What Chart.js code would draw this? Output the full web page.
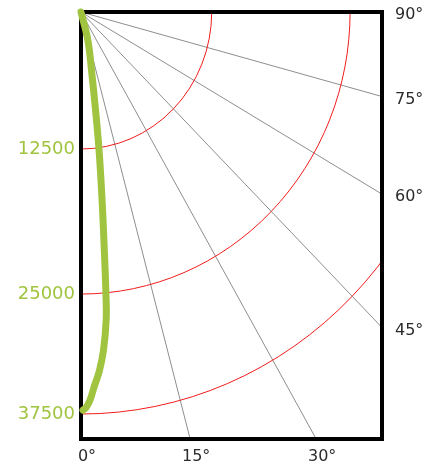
<!DOCTYPE html>
<html>
<head>
<meta charset="utf-8">
<script src="https://cdn.jsdelivr.net/npm/chart.js@4.4.1/dist/chart.umd.min.js"></script>
<style>
    html, body { margin: 0; padding: 0; background: #fff; }
    #wrap { width: 437px; height: 468px; position: relative; }
</style>
</head>
<body>
<div id="wrap"><canvas id="trackCanvas"></canvas></div>
<script>
// rings (labelled on the left)
var ringAltitudes = [12500, 25000, 37500];
var ringLabels = ["12500", "25000", "37500"];

// bearing lines, 0 = straight down, 90 = along the top
var angleTicks = [0, 15, 30, 45, 60, 75, 90];
var angleLabels = ["0°", "15°", "30°", "45°", "60°", "75°", "90°"];

// the track (bearing in degrees, altitude)
var trackAngle = [0, 14.2, 10.4, 9.0, 7.8, 6.7, 6.0, 5.3, 4.9, 4.0, 3.1, 2.1, 1.4, 0.8, 0.3];
var trackAltitude = [0, 2700, 5800, 8600, 12700, 17000, 20500, 25100, 27800, 30900, 33000, 34700, 36050, 36800, 37100];

// radial axis is not evenly spaced, this is where each altitude lands in plot units
var radialAxis = { alt: [0, 12500, 25000, 37500], r: [0, 12780, 26310, 37500] };
var X_MAX = 29430;
var Y_MAX = 39830;

var GREEN = "#a0c43f";
var TEXT = "#2b2b2b";

function warp(h) {
    var a = radialAxis.alt, r = radialAxis.r;
    var i = 1;
    while (i < a.length - 1 && h > a[i]) i++;
    return r[i - 1] + (h - a[i - 1]) * (r[i] - r[i - 1]) / (a[i] - a[i - 1]);
}
function toRad(d) { return d * Math.PI / 180; }

var trackPoints = [];
for (var i = 0; i < trackAngle.length; i++) {
    var rr = warp(trackAltitude[i]);
    trackPoints.push({ x: rr * Math.sin(toRad(trackAngle[i])), y: rr * Math.cos(toRad(trackAngle[i])) });
}

// which bearing lines leave through the bottom and which through the right side
var bottomTicks = [], bottomLabels = [], sideTicks = [], sideLabels = [];
for (var k = 0; k < angleTicks.length; k++) {
    var t = Math.tan(toRad(angleTicks[k]));
    if (t * Y_MAX <= X_MAX) {
        bottomTicks.push(Y_MAX * t);
        bottomLabels.push(angleLabels[k]);
    } else {
        sideTicks.push(angleTicks[k] >= 90 ? 0 : X_MAX / t);
        sideLabels.push(angleLabels[k]);
    }
}

var polarGrid = {
    id: "polarGrid",
    beforeDatasetsDraw: function(chart) {
        var ctx = chart.ctx, a = chart.chartArea;
        var xs = chart.scales.x, ys = chart.scales.y;
        var ox = xs.getPixelForValue(0), oy = ys.getPixelForValue(0);
        ctx.save();
        ctx.beginPath();
        ctx.rect(a.left, a.top, a.right - a.left, a.bottom - a.top);
        ctx.clip();

        ctx.strokeStyle = "#8e8e8e";
        ctx.lineWidth = 1;
        angleTicks.forEach(function(d) {
            var far = 300000;
            ctx.beginPath();
            ctx.moveTo(ox, oy);
            ctx.lineTo(xs.getPixelForValue(far * Math.sin(toRad(d))), ys.getPixelForValue(far * Math.cos(toRad(d))));
            ctx.stroke();
        });

        ctx.strokeStyle = "#f21c1c";
        ringAltitudes.forEach(function(h) {
            var r = warp(h);
            var rx = xs.getPixelForValue(r) - ox;
            var ry = ys.getPixelForValue(r) - oy;
            ctx.beginPath();
            ctx.ellipse(ox, oy, rx, ry, 0, 0, Math.PI / 2);
            ctx.stroke();
        });
        ctx.restore();

        // frame
        ctx.save();
        ctx.strokeStyle = "#000";
        ctx.lineWidth = 4;
        ctx.strokeRect(a.left, a.top, a.right - a.left, a.bottom - a.top);
        ctx.restore();
    }
};

function noPad(scale) {
    scale.paddingTop = 0;
    scale.paddingBottom = 0;
    scale.paddingLeft = 0;
    scale.paddingRight = 0;
}

var ctx = document.getElementById("trackCanvas");
var chart = new Chart(ctx, {
    type: "scatter",
    data: {
        datasets: [{
            data: trackPoints,
            showLine: true,
            borderColor: GREEN,
            borderWidth: 7,
            borderCapStyle: "round",
            borderJoinStyle: "round",
            tension: 0.4,
            pointRadius: 0,
            clip: 8,
            xAxisID: "x",
            yAxisID: "y"
        }]
    },
    options: {
        responsive: true,
        maintainAspectRatio: false,
        animation: false,
        events: [],
        layout: { padding: { top: 12, left: 0, right: 0, bottom: 0 } },
        plugins: { legend: { display: false }, tooltip: { enabled: false } },
        scales: {
            x: {
                type: "linear",
                position: "bottom",
                min: 0,
                max: X_MAX,
                grid: { display: false, drawTicks: false },
                border: { display: false },
                afterBuildTicks: function(scale) {
                    scale.ticks = bottomTicks.map(function(v) { return { value: v }; });
                },
                afterFit: function(scale) { scale.height = 29; noPad(scale); },
                ticks: {
                    autoSkip: false,
                    maxRotation: 0,
                    minRotation: 0,
                    padding: 8,
                    labelOffset: 6,
                    color: TEXT,
                    font: { family: "DejaVu Sans", size: 16 },
                    callback: function(v, i) { return bottomLabels[i]; }
                }
            },
            y: {
                type: "linear",
                position: "left",
                reverse: true,
                min: 0,
                max: Y_MAX,
                grid: { display: false, drawTicks: false },
                border: { display: false },
                afterBuildTicks: function(scale) {
                    scale.ticks = ringAltitudes.map(function(h) { return { value: warp(h) }; });
                },
                afterFit: function(scale) { scale.width = 81; noPad(scale); },
                ticks: {
                    autoSkip: false,
                    padding: 6,
                    color: GREEN,
                    font: { family: "DejaVu Sans", size: 18 },
                    callback: function(v, i) { return ringLabels[i]; }
                }
            },
            y2: {
                type: "linear",
                position: "right",
                reverse: true,
                min: 0,
                max: Y_MAX,
                grid: { display: false, drawTicks: false },
                border: { display: false },
                afterBuildTicks: function(scale) {
                    scale.ticks = sideTicks.map(function(v) { return { value: v }; });
                },
                afterFit: function(scale) { scale.width = 55; noPad(scale); },
                ticks: {
                    autoSkip: false,
                    padding: 13,
                    labelOffset: 3,
                    color: TEXT,
                    font: { family: "DejaVu Sans", size: 16 },
                    callback: function(v, i) { return sideLabels[i]; }
                }
            }
        }
    },
    plugins: [polarGrid]
});
</script>
</body>
</html>
